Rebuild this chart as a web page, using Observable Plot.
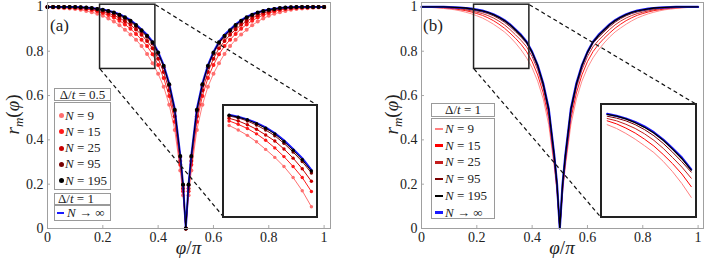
<!DOCTYPE html>
<html><head><meta charset="utf-8">
<script src="https://cdn.jsdelivr.net/npm/d3@7"></script>
<script src="https://cdn.jsdelivr.net/npm/@observablehq/plot@0.6"></script>
<style>
body{margin:0;background:#fff}
#fig{position:relative;width:706px;height:262px;overflow:hidden;font-family:"Liberation Serif",serif;color:#222}
#fig svg{position:absolute;overflow:visible}
.box{position:absolute;background:#fff;border:1px solid #9a9a9a;box-sizing:border-box}
.t{position:absolute;white-space:nowrap;line-height:14px;height:14px;font-family:"Liberation Serif",serif}
.inset{position:absolute;background:#fff;border:2px solid #222;box-sizing:border-box;overflow:hidden}
.inset svg{position:absolute;left:0;top:0}
</style></head>
<body><div id="fig"></div>
<script>
// ---------- data ----------
const phi = [0,0.02,0.04,0.06,0.08,0.1,0.12,0.14,0.16,0.18,0.2,0.22,0.24,0.26,0.28,0.3,0.32,0.34,0.36,0.38,0.4,0.42,0.44,0.46,0.48,0.49,0.5,0.51,0.52,0.54,0.56,0.58,0.6,0.62,0.64,0.66,0.68,0.7,0.72,0.74,0.76,0.78,0.8,0.82,0.84,0.86,0.88,0.9,0.92,0.94,0.96,0.98,1];

const rInf = [1,1,1,1,1,0.999,0.998,0.997,0.995,0.992,0.988,0.983,0.976,0.967,0.955,0.940,0.921,0.898,0.874,0.843,0.797,0.737,0.655,0.540,0.330,0.2,0,0.2,0.330,0.540,0.655,0.737,0.797,0.843,0.874,0.898,0.921,0.940,0.955,0.967,0.976,0.983,0.988,0.992,0.995,0.997,0.998,0.999,1,1,1,1,1];

// panel (a): Delta/t = 0.5
const a9   = [0.998,0.997,0.996,0.994,0.993,0.991,0.987,0.982,0.976,0.969,0.960,0.948,0.934,0.917,0.897,0.876,0.852,0.823,0.788,0.746,0.698,0.640,0.558,0.445,0.262,0.15,0,0.15,0.262,0.445,0.558,0.640,0.698,0.746,0.788,0.823,0.852,0.876,0.897,0.917,0.934,0.948,0.960,0.969,0.976,0.982,0.987,0.991,0.993,0.994,0.996,0.997,0.998];
const a15  = [1,0.999,0.998,0.997,0.996,0.995,0.993,0.990,0.986,0.980,0.972,0.963,0.952,0.938,0.921,0.901,0.878,0.852,0.823,0.786,0.738,0.679,0.598,0.482,0.288,0.168,0,0.168,0.288,0.482,0.598,0.679,0.738,0.786,0.823,0.852,0.878,0.901,0.921,0.938,0.952,0.963,0.972,0.980,0.986,0.990,0.993,0.995,0.996,0.997,0.998,0.999,1];
const a25  = [1,1,0.999,0.999,0.998,0.997,0.995,0.993,0.990,0.986,0.979,0.972,0.962,0.950,0.935,0.919,0.898,0.874,0.846,0.813,0.766,0.706,0.624,0.507,0.305,0.18,0,0.18,0.305,0.507,0.624,0.706,0.766,0.813,0.846,0.874,0.898,0.919,0.935,0.950,0.962,0.972,0.979,0.986,0.990,0.993,0.995,0.997,0.998,0.999,0.999,1,1];
const a95  = [1,1,1,1,1,0.999,0.998,0.996,0.994,0.990,0.985,0.980,0.972,0.961,0.948,0.933,0.913,0.890,0.865,0.835,0.789,0.728,0.645,0.530,0.323,0.195,0,0.195,0.323,0.530,0.645,0.728,0.789,0.835,0.865,0.890,0.913,0.933,0.948,0.961,0.972,0.980,0.985,0.990,0.994,0.996,0.998,0.999,1,1,1,1,1];
const a195 = [1,1,1,1,1,0.999,0.998,0.997,0.995,0.991,0.987,0.982,0.975,0.965,0.953,0.938,0.918,0.895,0.870,0.840,0.794,0.734,0.651,0.536,0.327,0.198,0,0.198,0.327,0.536,0.651,0.734,0.794,0.840,0.870,0.895,0.918,0.938,0.953,0.965,0.975,0.982,0.987,0.991,0.995,0.997,0.998,0.999,1,1,1,1,1];

// panel (b): Delta/t = 1
const b9   = [0.999,0.998,0.997,0.995,0.993,0.990,0.987,0.982,0.976,0.969,0.960,0.950,0.937,0.922,0.905,0.887,0.864,0.837,0.806,0.770,0.725,0.665,0.585,0.468,0.278,0.16,0,0.16,0.278,0.468,0.585,0.665,0.725,0.770,0.806,0.837,0.864,0.887,0.905,0.922,0.937,0.950,0.960,0.969,0.976,0.982,0.987,0.990,0.993,0.995,0.997,0.998,0.999];
const b15  = [1,0.999,0.998,0.997,0.996,0.994,0.991,0.987,0.983,0.977,0.970,0.962,0.951,0.938,0.922,0.904,0.882,0.858,0.831,0.798,0.753,0.693,0.612,0.495,0.296,0.173,0,0.173,0.296,0.495,0.612,0.693,0.753,0.798,0.831,0.858,0.882,0.904,0.922,0.938,0.951,0.962,0.970,0.977,0.983,0.987,0.991,0.994,0.996,0.997,0.998,0.999,1];
const b25  = [1,1,1,0.999,0.998,0.996,0.994,0.991,0.987,0.982,0.976,0.970,0.961,0.950,0.936,0.919,0.898,0.874,0.849,0.820,0.776,0.716,0.635,0.518,0.312,0.185,0,0.185,0.312,0.518,0.635,0.716,0.776,0.820,0.849,0.874,0.898,0.919,0.936,0.950,0.961,0.970,0.976,0.982,0.987,0.991,0.994,0.996,0.998,0.999,1,1,1];
const b95  = [1,1,1,1,0.999,0.998,0.996,0.994,0.991,0.987,0.982,0.977,0.970,0.960,0.947,0.931,0.911,0.888,0.863,0.836,0.791,0.730,0.648,0.534,0.326,0.195,0,0.195,0.326,0.534,0.648,0.730,0.791,0.836,0.863,0.888,0.911,0.931,0.947,0.960,0.970,0.977,0.982,0.987,0.991,0.994,0.996,0.998,0.999,1,1,1,1];
const b195 = [1,1,1,1,1,0.999,0.998,0.997,0.995,0.991,0.987,0.982,0.975,0.965,0.953,0.938,0.919,0.896,0.871,0.841,0.795,0.735,0.652,0.537,0.328,0.198,0,0.198,0.328,0.537,0.652,0.735,0.795,0.841,0.871,0.896,0.919,0.938,0.953,0.965,0.975,0.982,0.987,0.991,0.995,0.997,0.998,0.999,1,1,1,1,1];

const sizes = ["9","15","25","95","195"];
const xTicks = [0,0.2,0.4,0.6,0.8,1];
const xTickLabels = ["0","0.2","0.4","0.6","0.8","1"];
const yTicks = [0,0.2,0.4,0.6,0.8,1];
const yTickLabels = ["0","0.2","0.4","0.6","0.8","1"];
const zoomBox = [0.19,0.39,0.72,1.01];           // x1,x2,y1,y2 of magnified region
const insetA = [0.638,0.976,0.05,0.556];         // inset placement (data units) panel a
const insetB = [0.649,0.994,0.05,0.56];          // inset placement (data units) panel b

// ---------- styles ----------
const FONT = "'Liberation Serif',serif";
const colA = {"9":"#ff6e6e","15":"#ff1a1a","25":"#c80000","95":"#780000","195":"#000000"};
const colB = {"9":"#ff8080","15":"#ff0000","25":"#c41e1e","95":"#7a0000","195":"#000000"};
const blue = "#1a1aff";

const rows = v => phi.map((p,i)=>({phi:p, r:v[i]}));
const seriesA = {"9":a9,"15":a15,"25":a25,"95":a95,"195":a195};
const seriesB = {"9":b9,"15":b15,"25":b25,"95":b95,"195":b195};

const fig = document.getElementById("fig");
const H = 262;

function curveMarks(series, cols, withDots, dotR, lw, clipDom){
  const m = [];
  const filt = d => clipDom ? d.filter(o => o.phi >= clipDom[0] && o.phi <= clipDom[1]) : d;
  for (const k of sizes){
    const d = filt(rows(series[k]));
    if (k === "195"){
      m.push(Plot.line(filt(rows(rInf)), {x:"phi", y:"r", stroke:blue, strokeWidth: withDots ? 2 : 2.2}));
    }
    m.push(Plot.line(d, {x:"phi", y:"r", stroke:cols[k], strokeWidth: k==="195" ? (withDots?1:1.3) : lw}));
    if (withDots) m.push(Plot.dot(d, {x:"phi", y:"r", r:dotR, fill:cols[k], stroke:"none"}));
  }
  return m;
}

function panel(opts){
  const {left, width, mL, mR, series, cols, dots, inset, tag} = opts;
  const mT = 2, mB = 34;
  const pw = width - mL - mR, ph = H - mT - mB;
  const xmax = pw / 276.6, ymax = ph / 221.6;
  const box = [{x1:zoomBox[0],x2:zoomBox[1],y1:zoomBox[2],y2:zoomBox[3]}];
  const links = [
    {x1:zoomBox[1], y1:zoomBox[3], x2:inset[1], y2:inset[3]},
    {x1:zoomBox[0], y1:zoomBox[2], x2:inset[0], y2:inset[2]}
  ];
  const p = Plot.plot({
    width, height:H, marginTop:mT, marginBottom:mB, marginLeft:mL, marginRight:mR,
    x:{domain:[0,xmax]}, y:{domain:[0,ymax]},
    style:{fontFamily:FONT, fontSize:"14px", color:"#222", background:"none"},
    marks:[
      Plot.tickX(xTicks, {x:d=>d, stroke:"#aaa", insetTop: ph-3}),
      Plot.tickY(yTicks, {y:d=>d, stroke:"#aaa", insetRight: pw-3}),
      Plot.axisX(xTicks, {tickSize:0, tickPadding:4, fontSize:14, fontFamily:FONT, tickFormat:d=>xTickLabels[xTicks.indexOf(d)], label:null}),
      Plot.axisY(yTicks, {tickSize:0, tickPadding:4, fontSize:14, fontFamily:FONT, tickFormat:d=>yTickLabels[yTicks.indexOf(d)], label:null}),
      ...curveMarks(series, cols, dots, 2, 0.9, null),
      Plot.link(links, {x1:"x1",y1:"y1",x2:"x2",y2:"y2", stroke:"#111", strokeWidth:1.2, strokeDasharray:"4,3"}),
      Plot.rect(box, {x1:"x1",x2:"x2",y1:"y1",y2:"y2", fill:"none", stroke:"#222", strokeWidth:1.5}),
      Plot.frame({stroke:"#a0a0a0"})
    ]
  });
  p.style.left = left + "px"; p.style.top = "0px";
  p.style.fontFamily = FONT;
  fig.appendChild(p);
  const sx = p.scale("x"), sy = p.scale("y");
  // inset
  const ix = sx.apply(inset[0]), ix2 = sx.apply(inset[1]);
  const iy = sy.apply(inset[3]), iy2 = sy.apply(inset[2]);
  const div = document.createElement("div");
  div.className = "inset";
  div.style.left = (left + ix - 1) + "px"; div.style.top = (iy - 1) + "px";
  div.style.width = (ix2 - ix + 2) + "px"; div.style.height = (iy2 - iy + 2) + "px";
  const iw = ix2 - ix - 2, ih = iy2 - iy - 2;
  const ip = Plot.plot({
    width: iw, height: ih, margin:0,
    x:{domain:[zoomBox[0], zoomBox[1]], axis:null}, y:{domain:[zoomBox[2], zoomBox[3]], axis:null},
    style:{background:"none"},
    marks: curveMarks(series, cols, dots, 1.7, 1, [zoomBox[0], zoomBox[1]])
  });
  div.appendChild(ip);
  fig.appendChild(div);
  // labels
  const cx = left + (mL + width - mR)/2;
  const xl = document.createElement("div");
  xl.className = "t"; xl.style.fontSize = "19px"; xl.style.lineHeight="19px"; xl.style.height="19px";
  xl.innerHTML = "<i>φ</i>/<i>π</i>"; xl.style.left = (cx - 25) + "px"; xl.style.width="50px"; xl.style.textAlign="center"; xl.style.top = "238px";
  fig.appendChild(xl);
  const yl = document.createElement("div");
  yl.className = "t"; yl.style.fontSize = "19px"; yl.style.lineHeight="19px"; yl.style.height="19px";
  yl.style.width = "60px"; yl.style.textAlign = "center";
  yl.innerHTML = "<i>r</i><sub style='font-size:13px'><i>m</i></sub>(<i>φ</i>)";
  yl.style.left = (left + opts.ylabX - 30) + "px"; yl.style.top = (115 - 10) + "px";
  yl.style.transform = "rotate(-90deg)";
  fig.appendChild(yl);
  const tg = document.createElement("div");
  tg.className = "t"; tg.style.fontSize = "17px"; tg.style.lineHeight="17px"; tg.style.height="17px";
  tg.textContent = tag; tg.style.left = (left + opts.tagX) + "px"; tg.style.top = "17px";
  fig.appendChild(tg);
}

panel({left:0, width:340, mL:47, mR:10, series:seriesA, cols:colA, dots:true, inset:insetA, tag:"(a)", ylabX:12, tagX:50});
panel({left:360, width:346, mL:61, mR:3, series:seriesB, cols:colB, dots:false, inset:insetB, tag:"(b)", ylabX:31, tagX:63});

// ---------- legends ----------
function addBox(l,t,w,h){ const b=document.createElement("div"); b.className="box"; Object.assign(b.style,{left:l+"px",top:t+"px",width:w+"px",height:h+"px"}); fig.appendChild(b); return b; }
function addText(parent, html, l, yc, fs, extra){ const d=document.createElement("div"); d.className="t"; d.innerHTML=html; Object.assign(d.style,{left:l+"px",top:(yc-7)+"px",fontSize:fs+"px"}, extra||{}); parent.appendChild(d); return d; }
function swatchDot(parent, cx, cy, c){ const s=document.createElement("div"); Object.assign(s.style,{position:"absolute",left:(cx-2.5)+"px",top:(cy-2.5)+"px",width:"5px",height:"5px",borderRadius:"50%",background:c}); parent.appendChild(s); }
function swatchLine(parent, x, cy, w, c){ const s=document.createElement("div"); Object.assign(s.style,{position:"absolute",left:x+"px",top:(cy-1.25)+"px",width:w+"px",height:"2.5px",background:c}); parent.appendChild(s); }

// panel a legend
let hb = addBox(54,88.3,57,12.5);
addText(hb, "Δ/<i>t</i> = 0.5", 0, 5.5, 13, {width:"55px",textAlign:"center"});
let bb = addBox(54,101.5,57,88.5);
sizes.forEach((k,i)=>{ const y = 13 + i*16.3; swatchDot(bb, 6, y, colA[k]); addText(bb, "<i>N</i> = " + k, 10, y, 13); });
hb = addBox(54,192.5,57,12);
addText(hb, "Δ/<i>t</i> = 1", 3, 5, 13);
bb = addBox(54,204.5,57,16.2);
swatchLine(bb, 2, 7.7, 7, blue); addText(bb, "<i>N</i> → ∞", 12, 7.7, 13);

// panel b legend
hb = addBox(431,103.3,64,14.2);
addText(hb, "Δ/<i>t</i> = 1", 0, 6, 13, {width:"62px",textAlign:"center"});
bb = addBox(431,117.5,64,101.5);
sizes.forEach((k,i)=>{ const y = 10.5 + i*16.7; swatchLine(bb, 3, y, 8, colB[k]); addText(bb, "<i>N</i> = " + k, 13, y, 13); });
{ const y = 10.5 + 5*16.7; swatchLine(bb, 3, y, 8, blue); addText(bb, "<i>N</i> → ∞", 13, y, 13); }
</script>
</body></html>
